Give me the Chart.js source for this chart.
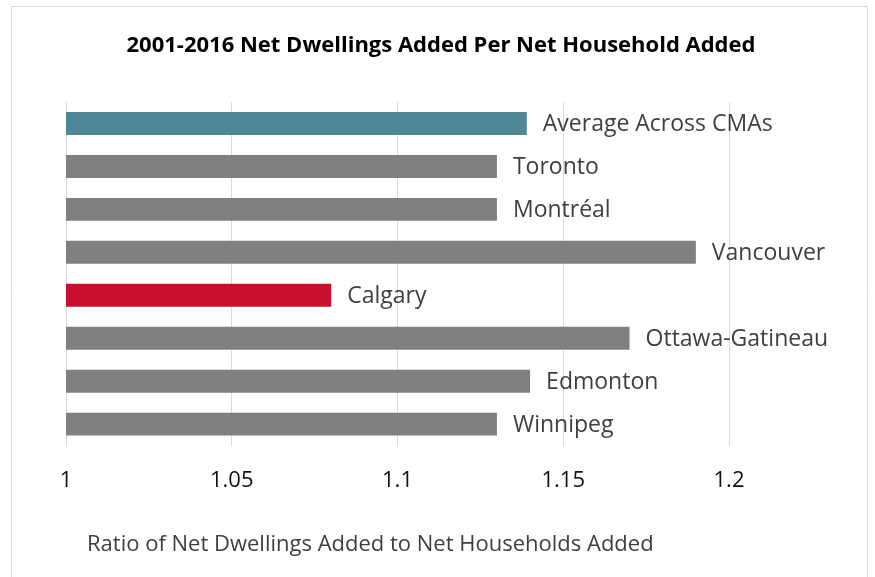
<!DOCTYPE html>
<html>
<head>
<meta charset="utf-8">
<script src="https://cdn.jsdelivr.net/npm/chart.js@4/dist/chart.umd.min.js"></script>
<style>
  html, body { margin: 0; padding: 0; background: #fff; }
  #wrap { width: 875px; height: 577px; position: relative; }
</style>
</head>
<body>
<div id="wrap"><canvas id="chart" width="875" height="577"></canvas></div>
<script>
// data
const cities = ['Average Across CMAs', 'Toronto', 'Montréal', 'Vancouver', 'Calgary', 'Ottawa-Gatineau', 'Edmonton', 'Winnipeg'];
const ratios = [1.139, 1.13, 1.13, 1.19, 1.08, 1.17, 1.14, 1.13];
const barColors = ['#4e8796', '#808080', '#808080', '#808080', '#c8102e', '#808080', '#808080', '#808080'];
const xTicks = [1, 1.05, 1.1, 1.15, 1.2];

const titleText = '2001-2016 Net Dwellings Added Per Net Household Added';
const axisTitle = 'Ratio of Net Dwellings Added to Net Households Added';

const FONT = "'Open Sans', sans-serif";

// names next to the bars
const barNames = {
  id: 'barNames',
  afterDatasetsDraw(chart) {
    const ctx = chart.ctx;
    const meta = chart.getDatasetMeta(0);
    ctx.save();
    ctx.font = '23px ' + FONT;
    ctx.fillStyle = '#404040';
    ctx.textBaseline = 'middle';
    ctx.textAlign = 'left';
    meta.data.forEach((bar, i) => {
      ctx.fillText(chart.data.labels[i], bar.x + 16, bar.y + 1);
    });
    ctx.restore();
  }
};

// frame, chart title and axis title
const frame = {
  id: 'frame',
  afterDraw(chart) {
    const ctx = chart.ctx;
    const area = chart.chartArea;
    ctx.save();
    ctx.strokeStyle = '#d9d9d9';
    ctx.lineWidth = 1;
    ctx.beginPath();
    ctx.moveTo(11.5, chart.height + 2);
    ctx.lineTo(11.5, 6.5);
    ctx.lineTo(867.5, 6.5);
    ctx.lineTo(867.5, chart.height + 2);
    ctx.stroke();

    ctx.textBaseline = 'middle';
    ctx.font = 'bold 22px ' + FONT;
    ctx.fillStyle = '#000';
    ctx.textAlign = 'center';
    ctx.fillText(titleText, 441, 46);

    ctx.font = '22px ' + FONT;
    ctx.fillStyle = '#404040';
    ctx.textAlign = 'left';
    ctx.fillText(axisTitle, area.left + 21, area.bottom + 99);
    ctx.restore();
  }
};

new Chart(document.getElementById('chart'), {
  type: 'bar',
  data: {
    labels: cities,
    datasets: [{
      data: ratios,
      backgroundColor: barColors,
      borderWidth: 0,
      categoryPercentage: 1,
      barPercentage: 0.535
    }]
  },
  options: {
    indexAxis: 'y',
    responsive: false,
    animation: false,
    layout: { padding: { left: 66, right: 146, top: 102, bottom: 61 } },
    plugins: {
      legend: { display: false },
      tooltip: { enabled: false },
      title: { display: false }
    },
    scales: {
      x: {
        min: 1,
        max: 1.2,
        afterBuildTicks(axis) { axis.ticks = xTicks.map(v => ({ value: v })); },
        grid: { color: '#d9d9d9', lineWidth: 1, drawTicks: false },
        border: { display: false },
        ticks: {
          color: '#111',
          font: { family: FONT, size: 22 },
          padding: 22,
          maxRotation: 0,
          callback: v => String(v)
        }
      },
      y: {
        display: false
      }
    }
  },
  plugins: [barNames, frame]
});
</script>
</body>
</html>
